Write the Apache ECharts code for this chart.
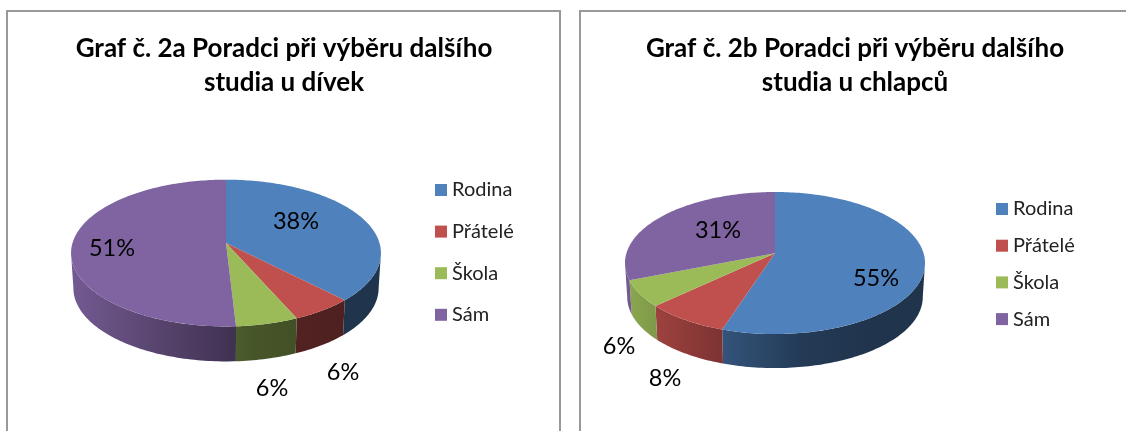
<!DOCTYPE html>
<html>
<head>
<meta charset="utf-8">
<style>
  html, body { margin: 0; padding: 0; background: #fff; }
  #chart { width: 1126px; height: 431px; }
</style>
<script src="https://cdn.jsdelivr.net/npm/echarts@6/dist/echarts.min.js"></script>
</head>
<body>
<div id="chart"></div>
<script>
const categories = ['Rodina', 'Přátelé', 'Škola', 'Sám'];
const girlsValues = [37.7, 5.7, 5.7, 50.9];
const boysValues = [55, 8, 6, 31];
const girlsTitle = 'Graf č. 2a Poradci při výběru dalšího\nstudia u dívek';
const boysTitle = 'Graf č. 2b Poradci při výběru dalšího\nstudia u chlapců';
const colors = ['#4f81bd', '#c0504d', '#9bbb59', '#8064a2'];

// ECharts has no tilted pie, so each slice is projected by hand from its value
const girlsPie = {
  cx: 226, cy: 243, R: 153.5, S: 72, k: 0.137, depth: 35,
  labels: [[296, 221], [112, 248], [343, 372], [272, 388]], labelOrder: [0, 3, 1, 2]
};
const boysPie = {
  cx: 775, cy: 253.3, R: 148.6, S: 69.7, k: 0.137, depth: 34,
  labels: [[876, 278], [718, 230], [665, 378], [619, 346]], labelOrder: [0, 3, 1, 2]
};

// brightness of the pie wall from its left edge to the right one
const wallShade = [[0, 0.9], [0.15, 0.78], [0.35, 0.63], [0.58, 0.46], [0.8, 0.41], [1, 0.4]];

function darken(hex, f) {
  const n = parseInt(hex.slice(1), 16);
  const r = Math.round((n >> 16 & 255) * f);
  const g = Math.round((n >> 8 & 255) * f);
  const b = Math.round((n & 255) * f);
  return 'rgb(' + r + ',' + g + ',' + b + ')';
}

function rimPoint(p, a, low) {
  const u = Math.sin(a), v = -Math.cos(a);
  const w = 1 / (1 - p.k * v);
  const shrink = low ? 0.985 : 1;
  return [p.cx + p.R * u * w * shrink, p.cy + p.S * v * w + (low ? p.depth : 0)];
}

function arc(p, a0, a1, low) {
  const pts = [];
  const n = Math.max(2, Math.ceil(Math.abs(a1 - a0) / 0.02));
  for (let i = 0; i <= n; i++) pts.push(rimPoint(p, a0 + (a1 - a0) * i / n, low));
  return pts;
}

function sliceItem(p, values, idx) {
  return function (params, api) {
    const total = values.reduce((s, x) => s + x, 0);
    let before = 0;
    for (let i = 0; i < idx; i++) before += values[i];
    const a0 = before / total * Math.PI * 2;
    const a1 = (before + api.value(0)) / total * Math.PI * 2;
    const color = api.visual('color');
    const children = [];

    // wall only shows on the front part of the rim
    const edge = Math.acos(-p.k);
    const w0 = Math.max(a0, edge), w1 = Math.min(a1, Math.PI * 2 - edge);
    if (w1 > w0) {
      const wall = arc(p, w0, w1, false).concat(arc(p, w1, w0, true));
      children.push({
        type: 'polygon', z2: 1,
        shape: { points: wall },
        style: {
          fill: new echarts.graphic.LinearGradient(p.cx - p.R, 0, p.cx + p.R, 0,
            wallShade.map(s => ({ offset: s[0], color: darken(color, s[1]) })), true)
        }
      });
    }
    children.push({
      type: 'polygon', z2: 2,
      shape: { points: [[p.cx, p.cy]].concat(arc(p, a0, a1, false)) },
      style: { fill: color }
    });
    const pos = p.labels[p.labelOrder.indexOf(idx)];
    children.push({
      type: 'text', z2: 3, x: pos[0], y: pos[1],
      style: {
        text: Math.round(api.value(0) / total * 100) + '%',
        fill: '#000', font: '23.5px Lato', align: 'center', verticalAlign: 'middle'
      }
    });
    return { type: 'group', children: children };
  };
}

function pieSeries(p, values) {
  return categories.map((name, i) => ({
    type: 'custom',
    name: name,
    coordinateSystem: 'none',
    silent: true,
    animation: false,
    itemStyle: { color: colors[i] },
    data: [[values[i]]],
    renderItem: sliceItem(p, values, i)
  }));
}

function frame(d) {
  return { type: 'polyline', silent: true, shape: { points: d }, style: { stroke: '#999', lineWidth: 2, fill: null } };
}

const titleStyle = { fontFamily: 'Lato', fontWeight: 'bold', fontSize: 26, color: '#000', lineHeight: 34 };
const legendBase = {
  orient: 'vertical', icon: 'rect', itemWidth: 12, itemHeight: 12, selectedMode: false,
  itemStyle: { borderWidth: 0 },
  textStyle: { fontFamily: 'Lato', fontSize: 20, lineHeight: 20, color: '#222' },
  data: categories, padding: 0
};

const chart = echarts.init(document.getElementById('chart'), null, { renderer: 'canvas' });
chart.setOption({
  backgroundColor: '#fff',
  animation: false,
  title: [
    { text: girlsTitle, left: 284, top: 32, textAlign: 'center', textStyle: titleStyle, padding: 0 },
    { text: boysTitle, left: 855, top: 32, textAlign: 'center', textStyle: titleStyle, padding: 0 }
  ],
  legend: [
    Object.assign({}, legendBase, { left: 435, top: 180, itemGap: 21.6 }),
    Object.assign({}, legendBase, { left: 996, top: 199, itemGap: 16.7 })
  ],
  graphic: [
    frame([[7, 431], [7, 11], [560, 11], [560, 431]]),
    frame([[580, 431], [580, 11], [1126, 11]])
  ],
  series: pieSeries(girlsPie, girlsValues).concat(pieSeries(boysPie, boysValues))
});
</script>
</body>
</html>
